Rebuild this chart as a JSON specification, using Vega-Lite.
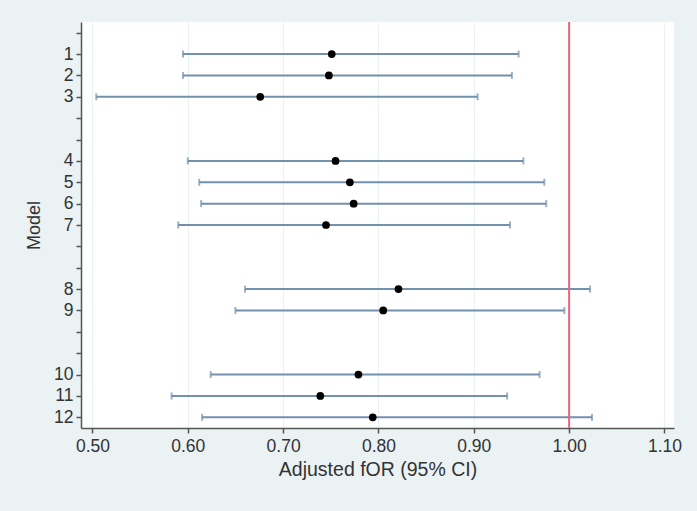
{
  "$schema": "https://vega.github.io/schema/vega-lite/v6.json",
  "width": 593,
  "height": 406,
  "autosize": {"type": "none"},
  "padding": {"left": 81, "top": 22, "right": 23, "bottom": 83},
  "background": "#eaf2f3",
  "view": {"fill": "white", "stroke": null},
  "config": {
    "font": "Liberation Sans",
    "axis": {
      "labelFont": "Liberation Sans",
      "titleFont": "Liberation Sans",
      "titleFontWeight": "normal",
      "labelColor": "#333333",
      "titleColor": "#333333",
      "domainColor": "#555555",
      "tickColor": "#555555",
      "domainWidth": 1.5,
      "tickWidth": 1.5
    }
  },
  "data": {
    "values": [
      {"model": "1", "or": 0.751, "lo": 0.595, "hi": 0.947},
      {"model": "2", "or": 0.748, "lo": 0.595, "hi": 0.940},
      {"model": "3", "or": 0.676, "lo": 0.504, "hi": 0.904},
      {"model": "4", "or": 0.755, "lo": 0.600, "hi": 0.952},
      {"model": "5", "or": 0.770, "lo": 0.612, "hi": 0.974},
      {"model": "6", "or": 0.774, "lo": 0.614, "hi": 0.976},
      {"model": "7", "or": 0.745, "lo": 0.590, "hi": 0.938},
      {"model": "8", "or": 0.821, "lo": 0.660, "hi": 1.022},
      {"model": "9", "or": 0.805, "lo": 0.650, "hi": 0.995},
      {"model": "10", "or": 0.779, "lo": 0.624, "hi": 0.969},
      {"model": "11", "or": 0.739, "lo": 0.583, "hi": 0.935},
      {"model": "12", "or": 0.794, "lo": 0.615, "hi": 1.024}
    ]
  },
  "layer": [
    {
      "mark": {"type": "rule", "color": "#7390ad", "strokeWidth": 2},
      "encoding": {
        "x": {
          "field": "lo",
          "type": "quantitative",
          "scale": {"domain": [0.488, 1.11], "nice": false, "zero": false},
          "axis": {
            "values": [0.5, 0.6, 0.7, 0.8, 0.9, 1.0, 1.1],
            "format": ".2f",
            "title": "Adjusted fOR (95% CI)",
            "grid": true,
            "gridColor": "#eaf2f3",
            "gridWidth": 1,
            "tickSize": 5,
            "labelFontSize": 17.5,
            "labelPadding": 4,
            "labelFlush": false,
            "titleFontSize": 19.5,
            "titlePadding": 6
          }
        },
        "x2": {"field": "hi"},
        "y": {
          "field": "model",
          "type": "ordinal",
          "scale": {
            "type": "point",
            "padding": 0.5,
            "domain": ["g0", "1", "2", "3", "g4", "g5", "4", "5", "6", "7", "g10", "g11", "8", "9", "g14", "g15", "10", "11", "12"]
          },
          "axis": {
            "labelExpr": "indexof(datum.value, 'g') == 0 ? '' : datum.value",
            "labelOverlap": false,
            "title": "Model",
            "grid": false,
            "tickSize": 5,
            "labelFontSize": 17.5,
            "labelPadding": 3,
            "labelAngle": 0,
            "titleFontSize": 18,
            "titlePadding": 10
          }
        }
      }
    },
    {
      "mark": {"type": "tick", "orient": "vertical", "color": "#7390ad", "thickness": 2, "size": 7},
      "encoding": {
        "x": {"field": "lo", "type": "quantitative"},
        "y": {"field": "model", "type": "ordinal"}
      }
    },
    {
      "mark": {"type": "tick", "orient": "vertical", "color": "#7390ad", "thickness": 2, "size": 7},
      "encoding": {
        "x": {"field": "hi", "type": "quantitative"},
        "y": {"field": "model", "type": "ordinal"}
      }
    },
    {
      "data": {"values": [{"ref": 1.0}]},
      "mark": {"type": "rule", "color": "#e8647e", "strokeWidth": 2},
      "encoding": {"x": {"field": "ref", "type": "quantitative"}}
    },
    {
      "mark": {"type": "point", "filled": true, "color": "black", "opacity": 1, "size": 60},
      "encoding": {
        "x": {"field": "or", "type": "quantitative"},
        "y": {"field": "model", "type": "ordinal"}
      }
    }
  ]
}
